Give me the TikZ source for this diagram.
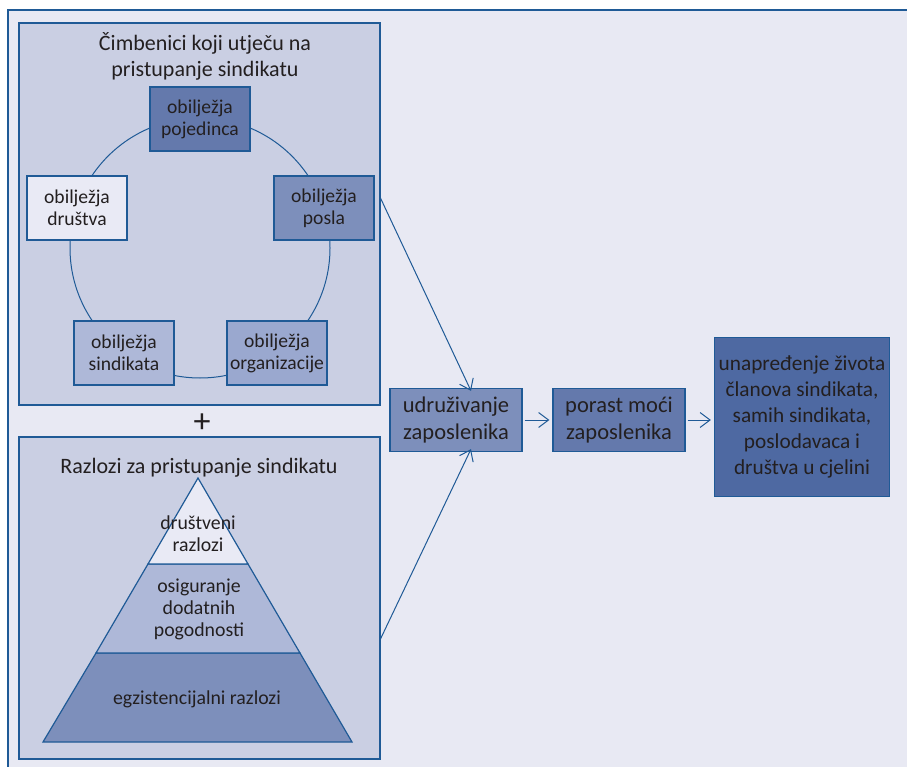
\documentclass[tikz,border=0pt]{standalone}
\usepackage{fontspec}
\setmainfont{Carlito}
\usetikzlibrary{arrows.meta}
\definecolor{edge}{HTML}{1F5A96}
\definecolor{pagebg}{HTML}{E8E9F3}
\definecolor{panelbg}{HTML}{CACFE3}
\definecolor{inkc}{HTML}{231F20}
\definecolor{shadeA}{HTML}{E9EAF5}
\definecolor{shadeB}{HTML}{AEB8D8}
\definecolor{shadeC}{HTML}{9AA8CF}
\definecolor{shadeD}{HTML}{7D8FBB}
\definecolor{shadeE}{HTML}{6479AC}
\definecolor{shadeF}{HTML}{4E69A2}
\tikzset{
  panel/.style={draw=edge, line width=1.2pt, fill=panelbg},
  factor/.style={draw=edge, line width=1.2pt, minimum width=100pt, minimum height=64pt,
    inner sep=0pt, align=center, text=inkc, font=\fontsize{19.6}{22}\selectfont},
  flowbox/.style={draw=edge, line width=1.2pt, minimum width=132pt, minimum height=63pt,
    inner sep=0pt, align=center, text=inkc, font=\fontsize{22.5}{26.5}\selectfont},
  link/.style={draw=edge, line width=1pt, -{Straight Barb[length=10pt,width=15pt,line width=1pt]}},
  tier/.style={draw=edge, line width=1.2pt, line join=miter},
  caption/.style={text=inkc, align=center, font=\fontsize{22}{26}\selectfont, inner sep=0pt},
  tiertext/.style={text=inkc, align=center, font=\fontsize{19.8}{22}\selectfont, inner sep=0pt}
}
\begin{document}
\begin{tikzpicture}[x=1pt,y=-1pt]
\useasboundingbox (0,0) rectangle (907,767);
\fill[white] (0,0) rectangle (907,767);
% page frame, open on the right and bottom
\fill[pagebg] (8,10) rectangle (907,767);
\draw[edge, line width=1.4pt] (8,767) -- (8,10) -- (907,10);

% upper panel: factors arranged on a circle
\draw[panel] (19,23) rectangle (380,405);
\node[caption] (t1) at (205,56) {Čimbenici koji utječu na\\pristupanje sindikatu};
\draw[edge, line width=1pt] (200,248) circle[radius=130pt];
\node[factor, fill=shadeE] (f1) at (200,119) {obilježja\\pojedinca};
\node[factor, fill=shadeD] (f2) at (324,208) {obilježja\\posla};
\node[factor, fill=shadeC] (f3) at (277,353) {obilježja\\organizacije};
\node[factor, fill=shadeB] (f4) at (124,353) {obilježja\\sindikata};
\node[factor, fill=shadeA] (f5) at (77,208) {obilježja\\društva};

% plus sign between panels
\node[text=inkc, font=\fontsize{34}{34}\selectfont, inner sep=0pt] (plus) at (202,423) {+};

% lower panel: pyramid of reasons
\draw[panel] (19,437) rectangle (380,759);
\node[caption] (t2) at (199,468) {Razlozi za pristupanje sindikatu};
\coordinate (apex) at (198,478);
\coordinate (bl) at (43,742);
\coordinate (br) at (352,742);
\coordinate (l1) at (148,564);
\coordinate (r1) at (248,564);
\coordinate (l2) at (96,653);
\coordinate (r2) at (300,653);
\filldraw[tier, fill=shadeD] (l2) -- (r2) -- (br) -- (bl) -- cycle;
\filldraw[tier, fill=shadeB] (l1) -- (r1) -- (r2) -- (l2) -- cycle;
\filldraw[tier, fill=shadeA] (apex) -- (r1) -- (l1) -- cycle;
\node[tiertext] (p1) at (198,534) {društveni\\razlozi};
\node[tiertext] (p2) at (199,609) {osiguranje\\dodatnih\\pogodnosti};
\node[tiertext] (p3) at (197,699) {egzistencijalni razlozi};
\coordinate (o1) at (380,197);
\coordinate (o2) at (380,640);

% outcome chain
\node[flowbox, fill=shadeD] (u) at (456,420) {udruživanje\\zaposlenika};
\node[flowbox, fill=shadeE] (m) at (619,420) {porast moći\\zaposlenika};
\node[draw=edge, line width=1.2pt, fill=shadeF, minimum width=175pt, minimum height=159pt,
  inner sep=0pt, align=center, text=inkc, font=\fontsize{21.3}{26}\selectfont] (g) at (802,417)
  {unapređenje života\\članova sindikata,\\samih sindikata,\\poslodavaca i\\društva u cjelini};

\draw[link] (o1) -- ([xshift=15pt,yshift=-3pt]u.north);
\draw[link] (o2) -- ([xshift=15pt,yshift=3pt]u.south);
\draw[link] ([xshift=2pt]u.east) -- ([xshift=-3pt]m.west);
\draw[link] ([xshift=2pt]m.east) -- ([xshift=-3pt]g.west |- m.east);
\end{tikzpicture}
\end{document}
